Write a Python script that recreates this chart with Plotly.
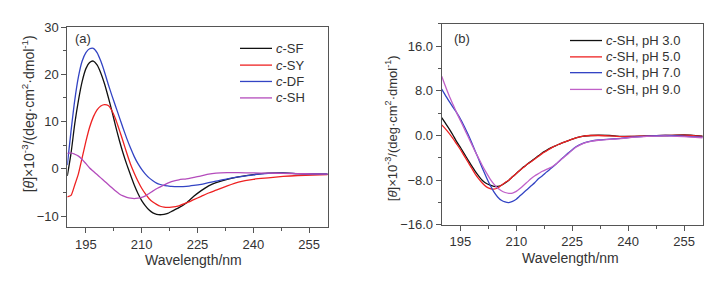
import plotly.graph_objects as go

# ---------------- Panel (a) data ----------------
wl_a = [190, 191, 192, 193, 194, 195, 196, 197, 198, 199, 200, 201, 202, 203, 204,
        205, 206, 207, 208, 209, 210, 211, 212, 213, 214, 215, 216, 217, 218, 220,
        222, 224, 226, 228, 230, 233, 236, 240, 244, 248, 252, 256, 260]
c_SF = [-1.5, 3.3, 9.5, 14.5, 18.5, 21.2, 22.5, 22.8, 22.0, 20.3, 18.0, 15.2, 12.2, 9.0, 6.0,
        3.3, 0.9, -1.3, -3.4, -5.2, -6.7, -7.8, -8.7, -9.3, -9.6, -9.7, -9.6, -9.4, -9.0, -8.2,
        -7.2, -5.8, -4.6, -3.6, -2.9, -2.2, -1.7, -1.2, -0.9, -0.85, -1.0, -1.05, -1.1]
c_SY = [-5.9, -5.6, -3.4, -1.0, 2.4, 5.8, 8.8, 11.0, 12.5, 13.3, 13.6, 13.4, 12.3, 10.5, 8.2,
        5.8, 3.3, 1.0, -0.9, -2.6, -4.1, -5.3, -6.3, -7.0, -7.5, -7.9, -8.1, -8.15, -8.1, -7.8,
        -7.2, -6.5, -5.8, -5.1, -4.5, -3.6, -2.8, -2.2, -1.9, -1.6, -1.4, -1.3, -1.2]
c_DF = [0.8, 8.0, 14.5, 19.5, 22.8, 24.6, 25.4, 25.5, 24.6, 22.8, 20.5, 17.9, 15.5, 13.2, 10.9,
        8.6, 6.4, 4.4, 2.6, 1.1, -0.1, -1.1, -1.9, -2.5, -3.0, -3.3, -3.5, -3.6, -3.7, -3.75,
        -3.7, -3.5, -3.25, -2.9, -2.6, -2.1, -1.7, -1.25, -0.95, -0.9, -1.0, -1.05, -1.1]
c_SH = [3.3, 3.4, 3.1, 2.7, 2.0, 1.1, 0.2, -0.5, -1.2, -1.9, -2.6, -3.3, -4.0, -4.7, -5.3,
        -5.7, -6.0, -6.2, -6.3, -6.2, -6.0, -5.7, -5.2, -4.7, -4.2, -3.8, -3.4, -3.0, -2.7, -2.3,
        -2.1, -1.8, -1.5, -1.1, -0.9, -0.8, -0.8, -0.85, -0.9, -0.95, -1.0, -1.05, -1.1]
names_a = ["<i>c</i>-SF", "<i>c</i>-SY", "<i>c</i>-DF", "<i>c</i>-SH"]

# ---------------- Panel (b) data ----------------
wl_b = [190, 191, 192, 193, 194, 195, 196, 197, 198, 199, 200, 201, 202, 203, 204, 205,
        206, 207, 208, 209, 210, 211, 212, 213, 214, 215, 216, 217, 218, 219, 220, 221,
        222, 224, 226, 228, 230, 232, 235, 238, 241, 245, 250, 255, 260]
ph3 = [3.2, 2.2, 1.2, 0.1, -1.1, -2.1, -3.2, -4.3, -5.4, -6.4, -7.3, -8.1, -8.6, -8.9, -9.1, -9.1,
       -8.9, -8.5, -8.0, -7.4, -6.8, -6.2, -5.6, -5.1, -4.6, -4.1, -3.6, -3.1, -2.7, -2.3, -2.0, -1.7,
       -1.4, -0.9, -0.4, -0.1, 0.0, 0.05, 0.0, -0.15, -0.15, -0.05, 0.0, 0.1, -0.1]
ph5 = [1.9, 1.2, 0.4, -0.5, -1.5, -2.5, -3.6, -4.7, -5.8, -6.9, -7.8, -8.6, -9.2, -9.5, -9.6, -9.4,
       -8.9, -8.4, -8.0, -7.4, -6.8, -6.2, -5.7, -5.1, -4.7, -4.2, -3.7, -3.2, -2.8, -2.4, -2.0, -1.7,
       -1.4, -0.9, -0.4, -0.1, 0.0, 0.0, -0.05, -0.2, -0.15, -0.05, 0.0, 0.05, -0.15]
ph7 = [8.3, 7.2, 6.1, 5.1, 4.1, 3.0, 1.7, 0.3, -1.2, -2.8, -4.4, -6.0, -7.5, -8.9, -10.1, -11.0,
       -11.6, -11.9, -12.0, -11.8, -11.4, -10.8, -10.2, -9.6, -9.0, -8.4, -7.7, -7.2, -6.6, -6.05, -5.5, -4.9,
       -4.3, -3.1, -2.0, -1.35, -1.0, -0.8, -0.65, -0.5, -0.3, -0.1, 0.0, -0.1, -0.3]
ph9 = [10.6, 8.8, 7.1, 5.6, 4.1, 2.7, 1.3, -0.1, -1.5, -2.9, -4.2, -5.5, -6.7, -7.8, -8.7, -9.4,
       -9.9, -10.2, -10.35, -10.3, -10.0, -9.5, -8.9, -8.3, -7.7, -7.2, -6.8, -6.4, -6.1, -5.8, -5.4, -4.9,
       -4.3, -3.2, -2.1, -1.4, -1.05, -0.85, -0.7, -0.55, -0.35, -0.15, -0.05, -0.2, -0.4]
names_b = ["<i>c</i>-SH, pH 3.0", "<i>c</i>-SH, pH 5.0", "<i>c</i>-SH, pH 7.0", "<i>c</i>-SH, pH 9.0"]

colors_a = ["#111111", "#ee2222", "#3344c4", "#b44cbc"]
colors_b = ["#111111", "#ee2222", "#3344c4", "#c060c8"]

# The page body adds an 8px margin, so the figure is drawn 8px smaller and
# all layout positions (measured in window pixels) are shifted by 8px.
OFF = 8
W, H = 717 - OFF, 283 - OFF
FONT = "Liberation Sans, Arial, sans-serif"
TXT = "#333333"
AX = "#555555"

fig = go.Figure()
for ys, nm, col in zip([c_SF, c_SY, c_DF, c_SH], names_a, colors_a):
    fig.add_trace(go.Scatter(x=wl_a, y=ys, name=nm, mode="lines",
                             line=dict(color=col, width=1.3, shape="spline", smoothing=0.6),
                             xaxis="x", yaxis="y", showlegend=False))
for ys, nm, col in zip([ph3, ph5, ph7, ph9], names_b, colors_b):
    fig.add_trace(go.Scatter(x=wl_b, y=ys, name=nm, mode="lines",
                             line=dict(color=col, width=1.3, shape="spline", smoothing=0.6),
                             xaxis="x2", yaxis="y2", showlegend=False))

def px(x):
    return (x - OFF) / W

def py(y):
    return 1 - (y - OFF) / H

axis_common = dict(showline=True, linecolor=AX, linewidth=1, mirror=True,
                   ticks="outside", ticklen=5, tickwidth=1, tickcolor=AX,
                   showgrid=False, zeroline=False,
                   tickfont=dict(family=FONT, size=13, color=TXT))

fig.update_layout(
    width=W, height=H,
    margin=dict(l=0, r=0, t=0, b=0),
    paper_bgcolor="white", plot_bgcolor="white",
    xaxis=dict(domain=[px(67.3), px(327.7)], range=[190, 260], tick0=195, dtick=15,
               minor=dict(ticks="outside", ticklen=3, tick0=195, dtick=7.5, tickcolor=AX),
               anchor="y", **axis_common),
    yaxis=dict(domain=[py(232.3), py(20.7)], range=[-12.3, 30], tick0=0, dtick=10,
               minor=dict(ticks="outside", ticklen=3, tick0=0, dtick=5, tickcolor=AX),
               anchor="x", **axis_common),
    xaxis2=dict(domain=[px(441.7), px(702.7)], range=[190, 260], tick0=195, dtick=15,
                minor=dict(ticks="outside", ticklen=3, tick0=195, dtick=7.5, tickcolor=AX),
                anchor="y2", **axis_common),
    yaxis2=dict(domain=[py(230), py(17.3)], range=[-16, 20], tick0=0, dtick=8,
                tickformat=".1f",
                minor=dict(ticks="outside", ticklen=3, tick0=0, dtick=4, tickcolor=AX),
                anchor="x2", **axis_common),
)

ytitle = "[<i>θ</i>]×10<sup>-3</sup>/(deg·cm<sup>2</sup>·dmol<sup>-1</sup>)"
annotations = []
for xx, yy in [(193, 266.7), (570, 265)]:
    annotations.append(dict(text="Wavelength/nm", x=px(xx), y=py(yy), xref="paper", yref="paper",
                            xanchor="center", yanchor="middle", showarrow=False,
                            font=dict(family=FONT, size=14, color=TXT)))
annotations.append(dict(text=ytitle, x=px(28), y=py(113), xref="paper", yref="paper",
                        xanchor="center", yanchor="middle", showarrow=False, textangle=-90,
                        font=dict(family=FONT, size=14, color=TXT)))
annotations.append(dict(text=ytitle, x=px(391.7), y=py(128), xref="paper", yref="paper",
                        xanchor="center", yanchor="middle", showarrow=False, textangle=-90,
                        font=dict(family=FONT, size=13, color=TXT)))
annotations.append(dict(text="(a)", x=px(73), y=py(33.3), xref="paper", yref="paper",
                        xanchor="left", yanchor="middle", showarrow=False,
                        font=dict(family=FONT, size=13, color=TXT)))
annotations.append(dict(text="(b)", x=px(451.5), y=py(33.3), xref="paper", yref="paper",
                        xanchor="left", yanchor="middle", showarrow=False,
                        font=dict(family=FONT, size=13, color=TXT)))

shapes = []
rows_a = [43.3, 61, 78.3, 95.7]
rows_b = [35, 52.3, 69, 86.7]
for nm, col, ry in zip(names_a, colors_a, rows_a):
    shapes.append(dict(type="line", xref="paper", yref="paper", x0=px(240), x1=px(272),
                       y0=py(ry), y1=py(ry), line=dict(color=col, width=1.3)))
    annotations.append(dict(text=nm, x=px(273.5), y=py(ry), xref="paper", yref="paper",
                            xanchor="left", yanchor="middle", showarrow=False,
                            font=dict(family=FONT, size=13, color=TXT)))
for nm, col, ry in zip(names_b, colors_b, rows_b):
    shapes.append(dict(type="line", xref="paper", yref="paper", x0=px(570), x1=px(602),
                       y0=py(ry), y1=py(ry), line=dict(color=col, width=1.3)))
    annotations.append(dict(text=nm, x=px(603.5), y=py(ry), xref="paper", yref="paper",
                            xanchor="left", yanchor="middle", showarrow=False,
                            font=dict(family=FONT, size=13, color=TXT)))

fig.update_layout(annotations=annotations, shapes=shapes)
fig.write_html("out.html")
